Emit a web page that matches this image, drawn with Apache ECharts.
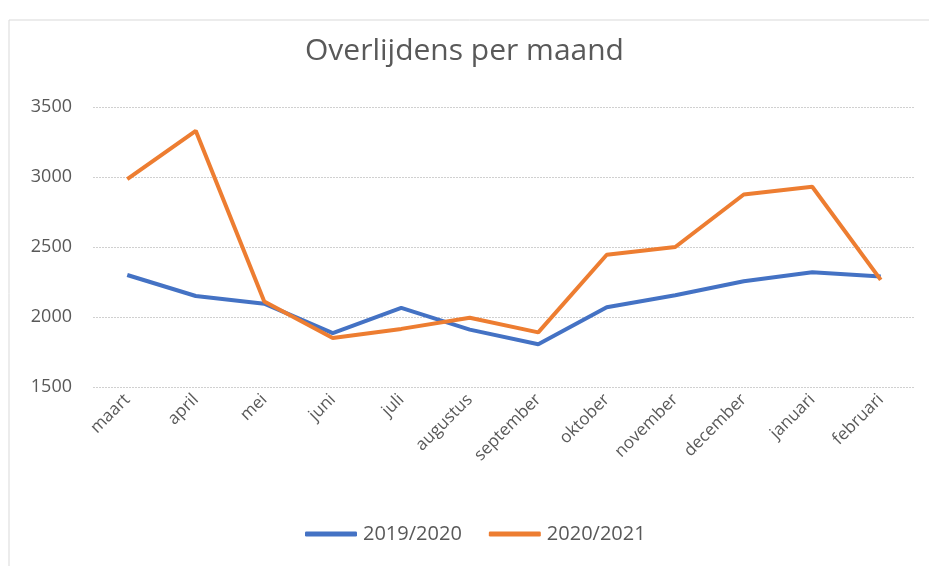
<!DOCTYPE html>
<html>
<head>
<meta charset="utf-8">
<script src="https://cdn.jsdelivr.net/npm/echarts@6/dist/echarts.min.js"></script>
<style>
    html, body { margin: 0; padding: 0; background: #fff; }
    #chart { width: 929px; height: 566px; }
</style>
</head>
<body>
<div id="chart"></div>
<script>
// maanden (maart t/m februari)
var maanden = ["maart", "april", "mei", "juni", "juli", "augustus", "september", "oktober", "november", "december", "januari", "februari"];
var jaar2019 = [2300, 2150, 2095, 1885, 2065, 1910, 1805, 2070, 2155, 2255, 2320, 2290];
var jaar2020 = [2985, 3330, 2110, 1850, 1915, 1995, 1890, 2445, 2500, 2875, 2930, 2265];
var reeksNamen = ["2019/2020", "2020/2021"];
var yTicks = { min: 1500, max: 3500, interval: 500 };

var myChart = echarts.init(document.getElementById("chart"), null, { renderer: "canvas" });

var sFont = "'Open Sans', 'Noto Sans', sans-serif";
var sGrijs = "#595959";

var option = {
    backgroundColor: "#fff",
    animation: false,
    title: {
        text: "Overlijdens per maand",
        left: "center",
        top: 31,
        textStyle: { fontFamily: sFont, fontSize: 30, fontWeight: "normal", color: sGrijs }
    },
    graphic: [{
        type: "rect",
        shape: { x: 9, y: 20, width: 940, height: 580 },
        style: { fill: "none", stroke: "#d9d9d9", lineWidth: 1 },
        silent: true
    }],
    legend: {
        data: reeksNamen,
        bottom: 17,
        left: 300,
        itemWidth: 52,
        itemHeight: 5,
        itemGap: 27,
        icon: "roundRect",
        textStyle: { fontFamily: sFont, fontSize: 20, color: sGrijs, padding: [0, 0, 0, 1] }
    },
    grid: { left: 93, right: 14, top: 107, bottom: 179 },
    xAxis: {
        type: "category",
        data: maanden,
        boundaryGap: true,
        axisLine: { show: false },
        axisTick: { show: false },
        axisLabel: {
            rotate: 45,
            interval: 0,
            margin: 10,
            fontFamily: sFont,
            fontSize: 17,
            color: sGrijs
        }
    },
    yAxis: {
        type: "value",
        min: yTicks.min,
        max: yTicks.max,
        interval: yTicks.interval,
        axisLine: { show: false },
        axisTick: { show: false },
        axisLabel: {
            margin: 21,
            fontFamily: sFont,
            fontSize: 18,
            color: sGrijs,
            formatter: function (v) { return String(v); }
        },
        splitLine: { lineStyle: { color: "#d0d0d0", width: 1, type: [2, 1] } }
    },
    series: [{
        name: reeksNamen[0],
        type: "line",
        data: jaar2019,
        symbol: "none",
        color: "#4472C4",
        lineStyle: { width: 4, color: "#4472C4" }
    }, {
        name: reeksNamen[1],
        type: "line",
        data: jaar2020,
        symbol: "none",
        color: "#ED7D31",
        lineStyle: { width: 4, color: "#ED7D31" }
    }]
};

myChart.setOption(option);
</script>
</body>
</html>
